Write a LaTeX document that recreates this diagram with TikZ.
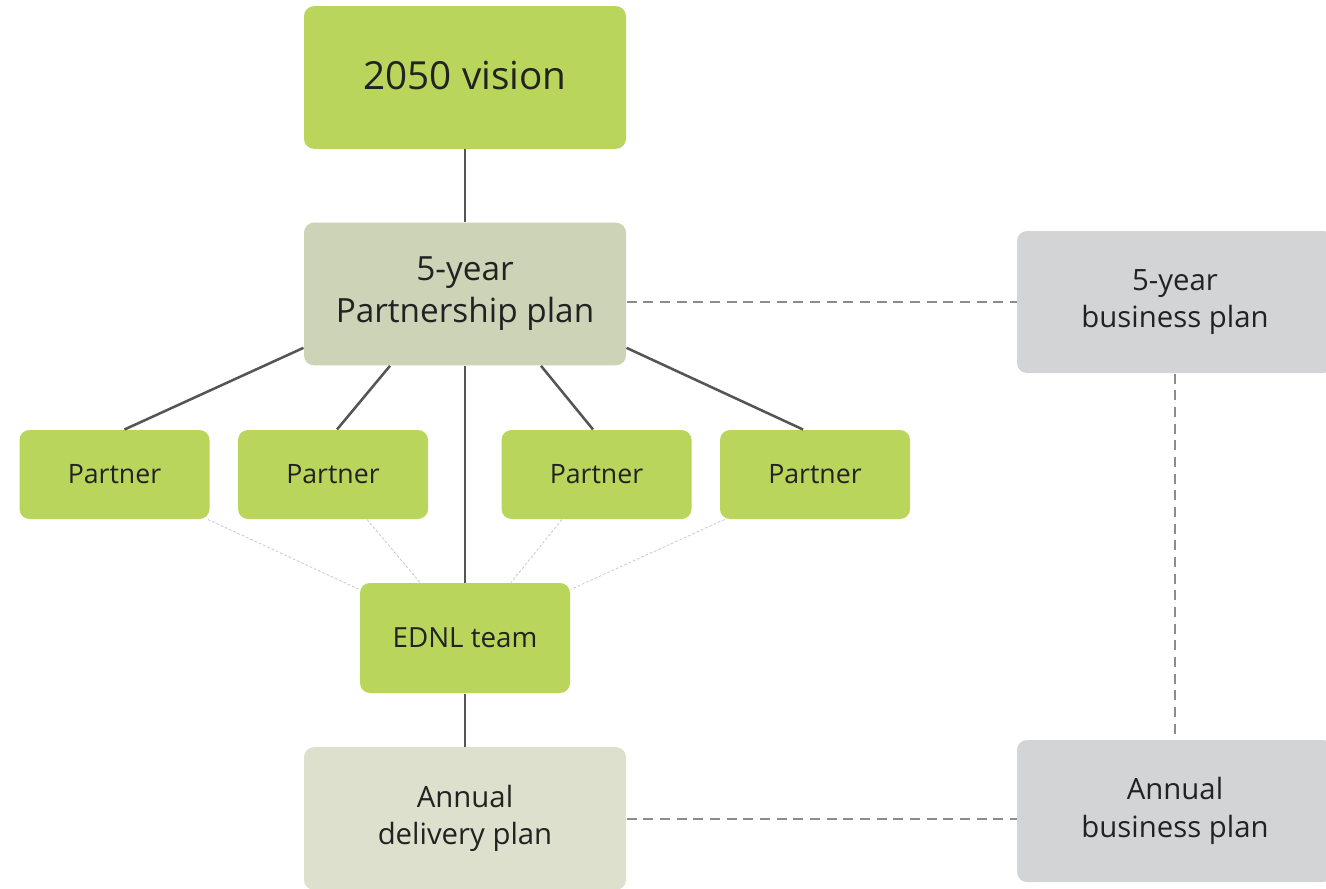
\documentclass[tikz,border=0pt]{standalone}
\usepackage{fontspec}
\setmainfont{Open Sans}
\usetikzlibrary{positioning}

\definecolor{leaf}{HTML}{B9D55B}
\definecolor{sage}{HTML}{CDD3B6}
\definecolor{pale}{HTML}{DDE0CC}
\definecolor{mist}{HTML}{D3D4D6}
\definecolor{ink}{HTML}{222222}
\definecolor{wire}{HTML}{555555}
\definecolor{dashgrey}{HTML}{8C8C8C}
\definecolor{dotgrey}{HTML}{C8C8C8}

\tikzset{
	every picture/.style={line width=0.75pt},
	box/.style={rounded corners=7.5pt, inner sep=0pt, align=center, text=ink},
	bigbox/.style={box, minimum width=241.5pt, minimum height=107pt},
	sidebox/.style={box, fill=mist, minimum width=237pt, minimum height=106.5pt, font=\fontsize{22}{28}\selectfont},
	partnerbox/.style={box, fill=leaf, minimum width=142.5pt, minimum height=66.75pt, font=\fontsize{20}{24}\selectfont},
	link/.style={draw=wire, line width=1.9pt},
	dashlink/.style={draw=dashgrey, line width=1.5pt, dash pattern={on 7.5pt off 5pt}},
	dotlink/.style={draw=dotgrey, line width=0.6pt, dash pattern={on 2pt off 1.5pt}}
}

\begin{document}
\begin{tikzpicture}[x=0.75pt,y=0.75pt,yscale=-1,xscale=1]
	\useasboundingbox (0,0) rectangle (1326,888);

	% main column
	\node [bigbox, fill=leaf, font=\fontsize{29}{34}\selectfont] (vision) at (465,77.5) {\raisebox{3pt}{2050 vision}};
	\node [bigbox, fill=sage, font=\fontsize{25}{31.5}\selectfont] (plan) at (465,294) {5-year\\Partnership plan};
	\node [box, fill=leaf, minimum width=157.5pt, minimum height=82.5pt, font=\fontsize{20.8}{24}\selectfont] (team) at (465,638) {EDNL team};
	\node [bigbox, fill=pale, font=\fontsize{22}{28}\selectfont] (delivery) at (465,818.5) {Annual\\delivery plan};

	% partners
	\node [partnerbox] (p1) at (114.5,474.5) {Partner};
	\node [partnerbox] (p2) at (333,474.5) {Partner};
	\node [partnerbox] (p3) at (596.5,474.5) {Partner};
	\node [partnerbox] (p4) at (815,474.5) {Partner};

	% business side
	\node [sidebox] (biz5) at (1175,302) {5-year\\business plan};
	\node [sidebox] (bizyear) at (1175,811) {Annual\\business plan};

	% solid links
	\draw [link] (vision.south) -- (plan.north);
	\draw [link] (plan.south) -- (team.north);
	\draw [link] (team.south) -- (delivery.north);
	\draw [link] ([yshift=-13.5pt]plan.south west) -- ([xshift=7.5pt]p1.north);
	\draw [link] ([xshift=-56.25pt]plan.south) -- ([xshift=3pt]p2.north);
	\draw [link] ([xshift=57pt]plan.south) -- ([xshift=-2.6pt]p3.north);
	\draw [link] ([yshift=-13.5pt]plan.south east) -- ([xshift=-9pt]p4.north);

	% faint links to the team
	\draw [dotlink] ([xshift=-1.5pt]p1.south east) -- ([yshift=5.25pt]team.north west);
	\draw [dotlink] ([xshift=25.5pt]p2.south) -- ([xshift=-33.75pt]team.north);
	\draw [dotlink] ([xshift=-26pt]p3.south) -- ([xshift=34.5pt]team.north);
	\draw [dotlink] ([xshift=3.75pt]p4.south west) -- ([yshift=5.25pt]team.north east);

	% dashed links
	\draw [dashlink] (biz5.west -| plan.east) -- (biz5.west);
	\draw [dashlink] (biz5.south) -- (bizyear.north);
	\draw [dashlink] (delivery.east) -- (delivery.east -| bizyear.west);
\end{tikzpicture}
\end{document}
